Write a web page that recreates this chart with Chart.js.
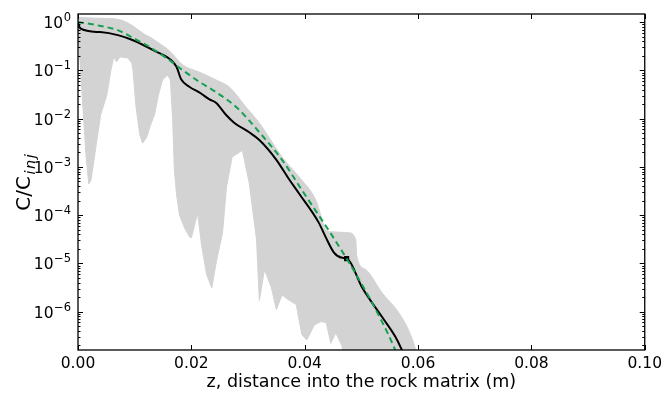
<!DOCTYPE html>
<html>
<head>
<meta charset="utf-8">
<script src="https://cdn.jsdelivr.net/npm/chart.js@4.4.1/dist/chart.umd.min.js"></script>
<style>
    body { margin: 0; background: #fff; }
    #wrap { width: 667px; height: 395px; }
</style>
</head>
<body>
<div id="wrap"><canvas id="profileChart" width="667" height="395"></canvas></div>
<script>
// envelope of the ensemble of gray realisations (upper and lower edge)
const ensUpperZ = [0, 0.002, 0.004, 0.0074, 0.0097, 0.0117, 0.01265, 0.0144, 0.0162, 0.01845, 0.0214, 0.0244, 0.0267, 0.0297, 0.032, 0.036, 0.039, 0.042, 0.0438, 0.0448, 0.0478, 0.049, 0.0492, 0.0508, 0.0536, 0.0566, 0.0583, 0.0596, 0.0605];
const ensUpperC = [1.25, 1.22, 1.2, 1.12, 0.83, 0.56, 0.49, 0.36, 0.25, 0.13, 0.092, 0.063, 0.045, 0.017, 0.0081, 0.0016, 6.2e-4, 2.0e-4, 4.9e-5, 4.5e-5, 4.3e-5, 3.1e-5, 1.4e-5, 7.4e-6, 2.5e-6, 9.5e-7, 4.2e-7, 1.6e-7, 5e-8];

const ensLowerZ = [0, 0.00035, 0.0009, 0.0014, 0.0019, 0.0023, 0.0032, 0.004, 0.0051, 0.0058, 0.0063, 0.0068, 0.0074, 0.0088, 0.0095, 0.0097, 0.0102, 0.0109, 0.0114, 0.0121, 0.0128, 0.0135, 0.0142, 0.0149, 0.0158, 0.0163, 0.0167, 0.0170, 0.0174, 0.0179, 0.0188, 0.0197, 0.0200, 0.0206, 0.0211, 0.0218, 0.0227, 0.0236, 0.0244, 0.0255, 0.0262, 0.0272, 0.0290, 0.0302, 0.0315, 0.0320, 0.0329, 0.0341, 0.0350, 0.0360, 0.0373, 0.0385, 0.0395, 0.0404, 0.0417, 0.0429, 0.0438, 0.0446, 0.0455, 0.0466, 0.0475, 0.0605];
const ensLowerC = [0.54, 0.16, 0.015, 1.8e-3, 4.4e-4, 5.3e-4, 2.8e-3, 0.012, 0.031, 0.10, 0.19, 0.15, 0.19, 0.18, 0.14, 0.10, 0.019, 4.6e-3, 3.1e-3, 4.0e-3, 7.4e-3, 0.012, 0.031, 0.063, 0.08, 0.063, 9.3e-3, 8.7e-4, 2.6e-4, 1.0e-4, 5.4e-5, 3.5e-5, 3.4e-5, 6.3e-5, 1.1e-4, 2.4e-5, 5.8e-6, 3.1e-6, 1.07e-5, 4.3e-5, 3.8e-4, 1.6e-3, 2.2e-3, 4.7e-4, 3.1e-5, 1.7e-6, 7.4e-6, 3.2e-6, 1.1e-6, 2.2e-6, 1.7e-6, 1.4e-6, 3.3e-7, 2.6e-7, 5.3e-7, 6.2e-7, 5.9e-7, 2.2e-7, 3.6e-7, 1.9e-7, 1e-8, 1e-8];

// black solid profile
const meanZ = [0, 0.0004, 0.0039, 0.0072, 0.0097, 0.0136, 0.0165, 0.0174, 0.0182, 0.0197, 0.0214, 0.0232, 0.0244, 0.0261, 0.0276, 0.0302, 0.032, 0.035, 0.0373, 0.039, 0.0425, 0.0437, 0.0452, 0.0466, 0.0475, 0.0501, 0.0536, 0.056, 0.0572, 0.058];
const meanC = [0.98, 0.74, 0.62, 0.53, 0.42, 0.25, 0.16, 0.117, 0.065, 0.045, 0.035, 0.025, 0.021, 0.012, 0.0081, 0.0052, 0.0036, 0.0014, 5.4e-4, 2.8e-4, 6.9e-5, 3.5e-5, 1.65e-5, 1.3e-5, 1.25e-5, 3.2e-6, 7.9e-7, 3.0e-7, 1.55e-7, 9e-8];

// green dashed profile
const fitZ = [0, 0.002, 0.004, 0.007, 0.0097, 0.0127, 0.0156, 0.0185, 0.0214, 0.0244, 0.028, 0.032, 0.036, 0.0395, 0.0443, 0.0478, 0.0508, 0.0518, 0.0557, 0.0566];
const fitC = [1.0, 0.92, 0.83, 0.68, 0.47, 0.30, 0.18, 0.10, 0.058, 0.035, 0.017, 5.2e-3, 1.4e-3, 3.3e-4, 4.7e-5, 1.05e-5, 2.6e-6, 1.6e-6, 1.9e-7, 1.0e-7];

// black square marker
const markerZ = [0.0474];
const markerC = [1.25e-5];

const xTickValues = [0, 0.02, 0.04, 0.06, 0.08, 0.10];
const yTickExps = [0, -1, -2, -3, -4, -5, -6];

const GRAY = '#d3d3d3';
const GREEN = '#14a050';

function toPoints(zs, cs) {
    return zs.map((z, i) => ({ x: z, y: cs[i] }));
}

function supText(e) {
    return e === 0 ? '0' : '\u2212' + Math.abs(e);
}

const frameAndText = {
    id: 'frameAndText',
    afterDatasetsDraw(chart) {
        const { ctx, chartArea: a, scales: { x, y } } = chart;
        ctx.save();
        ctx.strokeStyle = '#000';
        ctx.lineWidth = 1;
        ctx.beginPath();
        // inward ticks on x (bottom + top)
        xTickValues.forEach(v => {
            const px = Math.round(x.getPixelForValue(v)) + 0.5;
            ctx.moveTo(px, a.bottom); ctx.lineTo(px, a.bottom - 5);
            ctx.moveTo(px, a.top); ctx.lineTo(px, a.top + 5);
        });
        // inward major + minor ticks on y (left + right)
        for (let e = -7; e <= 0; e++) {
            for (let m = 1; m <= 9; m++) {
                const v = m * Math.pow(10, e);
                if (v < y.min || v > y.max) continue;
                const py = Math.round(y.getPixelForValue(v)) + 0.5;
                const len = m === 1 ? 5 : 2.5;
                ctx.moveTo(a.left, py); ctx.lineTo(a.left + len, py);
                ctx.moveTo(a.right, py); ctx.lineTo(a.right - len, py);
            }
        }
        ctx.stroke();
        ctx.lineWidth = 1.3;
        ctx.strokeRect(a.left, a.top, a.right - a.left, a.bottom - a.top);
        ctx.restore();
    },
    afterDraw(chart) {
        const { ctx, chartArea: a, scales: { y } } = chart;
        ctx.save();
        ctx.fillStyle = '#000';
        // y tick labels 10^e
        yTickExps.forEach(e => {
            const py = y.getPixelForValue(Math.pow(10, e));
            ctx.font = '11.5px "DejaVu Sans"';
            const sup = supText(e);
            const wSup = ctx.measureText(sup).width;
            ctx.textAlign = 'right';
            ctx.textBaseline = 'alphabetic';
            ctx.fillText(sup, 71, py - 1);
            ctx.font = '15.5px "DejaVu Sans"';
            ctx.fillText('10', 71 - wSup - 0.5, py + 6);
        });
        // x title
        ctx.font = '17.5px "DejaVu Sans"';
        ctx.textAlign = 'center';
        ctx.textBaseline = 'middle';
        ctx.fillText('z, distance into the rock matrix (m)', (a.left + a.right) / 2, 382);
        // y title  C/C_inj
        ctx.translate(22, (a.top + a.bottom) / 2);
        ctx.rotate(-Math.PI / 2);
        ctx.textAlign = 'left';
        ctx.textBaseline = 'alphabetic';
        ctx.font = '20px "DejaVu Sans"';
        const wMain = ctx.measureText('C/C').width;
        ctx.font = 'italic 14.5px "DejaVu Sans"';
        const subLetters = ['i', 'n', 'j'];
        const subGap = 1.5;
        const wSub = subLetters.reduce((s, c) => s + ctx.measureText(c).width + subGap, 0);
        const start = -(wMain + wSub + 1) / 2;
        ctx.font = '20px "DejaVu Sans"';
        ctx.fillText('C/C', start, 8);
        ctx.font = 'italic 14.5px "DejaVu Sans"';
        let sx = start + wMain + 1.5;
        subLetters.forEach(c => {
            ctx.fillText(c, sx, 12.5);
            sx += ctx.measureText(c).width + subGap;
        });
        ctx.restore();
    }
};

new Chart(document.getElementById('profileChart'), {
    type: 'line',
    data: {
        datasets: [
            {
                label: 'ensemble lower',
                data: toPoints(ensLowerZ, ensLowerC),
                borderColor: GRAY,
                borderWidth: 1,
                pointRadius: 0,
                tension: 0,
                fill: false,
                clip: 0,
                order: 4
            },
            {
                label: 'ensemble upper',
                data: toPoints(ensUpperZ, ensUpperC),
                borderColor: GRAY,
                backgroundColor: GRAY,
                borderWidth: 1,
                pointRadius: 0,
                cubicInterpolationMode: 'monotone',
                fill: '-1',
                clip: 0,
                order: 3
            },
            {
                label: 'mean',
                data: toPoints(meanZ, meanC),
                borderColor: '#000',
                borderWidth: 2,
                pointRadius: 0,
                cubicInterpolationMode: 'monotone',
                fill: false,
                clip: 0,
                order: 2
            },
            {
                label: 'marker',
                data: toPoints(markerZ, markerC),
                showLine: false,
                pointStyle: 'rect',
                pointRadius: 3.6,
                pointBackgroundColor: '#000',
                pointBorderColor: '#000',
                pointBorderWidth: 0,
                order: 1
            },
            {
                label: 'fit',
                data: toPoints(fitZ, fitC),
                borderColor: GREEN,
                borderWidth: 2,
                borderDash: [6, 4],
                pointRadius: 0,
                cubicInterpolationMode: 'monotone',
                fill: false,
                clip: 0,
                order: 0
            }
        ]
    },
    options: {
        responsive: false,
        animation: false,
        layout: { padding: { top: 14, right: 20, left: 0, bottom: 0 } },
        plugins: {
            legend: { display: false },
            tooltip: { enabled: false },
            title: { display: false }
        },
        scales: {
            x: {
                type: 'linear',
                min: 0,
                max: 0.1,
                grid: { display: false, drawTicks: false },
                border: { display: false },
                afterBuildTicks: scale => {
                    scale.ticks = xTickValues.map(v => ({ value: v }));
                },
                afterFit: scale => { scale.height = 45; },
                ticks: {
                    autoSkip: false,
                    maxRotation: 0,
                    padding: 5,
                    color: '#000',
                    font: { family: 'DejaVu Sans', size: 15.5 },
                    callback: v => Number(v).toFixed(2)
                }
            },
            y: {
                type: 'logarithmic',
                min: 1.6e-7,
                max: 1.47,
                grid: { display: false, drawTicks: false },
                border: { display: false },
                afterFit: scale => { scale.width = 78; },
                ticks: { display: false }
            }
        }
    },
    plugins: [frameAndText]
});
</script>
</body>
</html>
